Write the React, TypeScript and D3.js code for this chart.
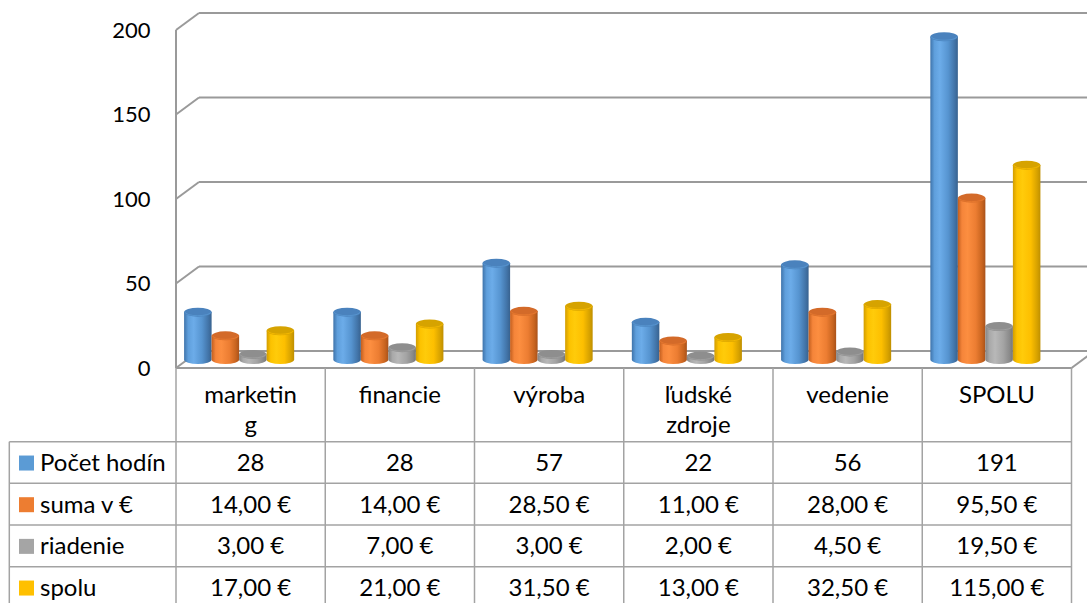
import React from "react";
import * as d3 from "d3";

const categories = ["marketing", "financie", "výroba", "ľudské zdroje", "vedenie", "SPOLU"];
const categoryLines = [["marketin", "g"], ["financie"], ["výroba"], ["ľudské", "zdroje"], ["vedenie"], ["SPOLU"]];
const seriesNames = ["Počet hodín", "suma v €", "riadenie", "spolu"];
const pocetHodin = [28, 28, 57, 22, 56, 191];
const sumaEur = [14, 14, 28.5, 11, 28, 95.5];
const riadenie = [3, 7, 3, 2, 4.5, 19.5];
const spolu = [17, 21, 31.5, 13, 32.5, 115];
const yTicks = [0, 50, 100, 150, 200];

const seriesValues = [pocetHodin, sumaEur, riadenie, spolu];
const seriesIsCurrency = [false, true, true, true];
const seriesColors = ["#5B9BD5", "#ED7D31", "#A5A5A5", "#FFC000"];
const seriesGrad = [
  ["#3f74ab", "#5f9fdc", "#6cace9", "#5694d0", "#4274a8", "#38628f"],
  ["#c25e1e", "#f5853a", "#fc8e40", "#ec7d32", "#c8641f", "#a9521a"],
  ["#858585", "#a9a9a9", "#b8b8b8", "#a4a4a4", "#8a8a8a", "#767676"],
  ["#d29d00", "#fcc200", "#ffcb0a", "#fdbf00", "#d7a200", "#bf8f00"],
];
const seriesTop = ["#4a82bd", "#d36a29", "#8e8e8e", "#d6a300"];

const W = 1087;
const H = 603;
const FONT = "Lato, 'Open Sans', sans-serif";

const loc = d3.formatLocale({ decimal: ",", thousands: " ", grouping: [3], currency: ["", " €"] });
const fmtCur = loc.format("$.2f");

export default function App() {
  const frontLeft = 176;
  const frontRight = 1071.5;
  const depthX = 23;
  const depthY = -17;

  const yFront = d3.scaleLinear().domain([0, 200]).range([368, 30]);
  const yBack = (v: number) => yFront(v) + depthY;
  const yMid = (v: number) => yFront(v) + depthY / 2;

  const xCat = d3.scaleBand<string>().domain(categories).range([frontLeft, frontRight]).padding(0);
  const xSer = d3
    .scaleBand<string>()
    .domain(seriesNames)
    .range([0, xCat.bandwidth()])
    .paddingInner(0)
    .paddingOuter(0.712);

  const gridColor = "#9a9a9a";
  const tableColor = "#a3a3a3";

  const headerTop = 368;
  const headerBottom = 441.7;
  const rowH = 41.67;
  const legendLeft = 9.3;

  const ry = 4.5;

  return (
    <svg
      width={W}
      height={H}
      style={{ position: "absolute", left: 0, top: 0, background: "#fff" }}
      fontFamily={FONT}
    >
      <defs>
        {seriesGrad.map((stops, i) => (
          <linearGradient key={i} id={`g${i}`} x1="0" x2="1" y1="0" y2="0">
            {stops.map((c, j) => (
              <stop key={j} offset={[0, 0.15, 0.35, 0.65, 0.88, 1][j]} stopColor={c} />
            ))}
          </linearGradient>
        ))}
      </defs>

      {/* back wall gridlines */}
      {yTicks.map((t) => (
        <g key={t}>
          <line x1={frontLeft + depthX} x2={W + 20} y1={yBack(t)} y2={yBack(t)} stroke={gridColor} strokeWidth={2} />
          <line x1={frontLeft} x2={frontLeft + depthX} y1={yFront(t)} y2={yBack(t)} stroke={gridColor} strokeWidth={2} />
        </g>
      ))}
      {/* left wall front edge */}
      <line x1={frontLeft} x2={frontLeft} y1={yFront(200)} y2={yFront(0)} stroke={gridColor} strokeWidth={2} />
      {/* floor */}
      <line x1={frontLeft} x2={frontRight} y1={yFront(0)} y2={yFront(0)} stroke={gridColor} strokeWidth={2} />
      <line x1={frontRight} x2={frontRight + depthX} y1={yFront(0)} y2={yBack(0)} stroke={gridColor} strokeWidth={2} />

      {/* y axis labels */}
      {yTicks.map((t) => (
        <text key={t} x={150.5} y={yFront(t) + 7.8} textAnchor="end" fontSize={22} fill="#000">
          {t}
        </text>
      ))}

      {/* cylinders */}
      {categories.map((c, ci) => (
        <g key={c}>
          {seriesNames.map((s, si) => {
            const v = seriesValues[si][ci];
            const x0 = (xCat(c) as number) - depthX / 2 + (xSer(s) as number);
            const w = xSer.bandwidth();
            const xR = x0 + w;
            const yb = yMid(0);
            const yt = yMid(v);
            const rx = w / 2;
            const d = `M${x0},${yt} L${x0},${yb} A${rx},${ry} 0 0 0 ${xR},${yb} L${xR},${yt} Z`;
            return (
              <g key={s}>
                <path d={d} fill={`url(#g${si})`} />
                <ellipse cx={x0 + rx} cy={yt} rx={rx} ry={ry} fill={seriesTop[si]} />
                <path
                  d={`M${x0 + 1},${yt} A${rx - 1},${ry - 1} 0 0 0 ${xR - 1},${yt}`}
                  fill="none"
                  stroke={seriesColors[si]}
                  strokeOpacity={0.7}
                  strokeWidth={1}
                />
              </g>
            );
          })}
        </g>
      ))}

      {/* data table */}
      {categories.map((c) => (
        <line
          key={c}
          x1={xCat(c) as number}
          x2={xCat(c) as number}
          y1={headerTop}
          y2={H + 10}
          stroke={tableColor}
          strokeWidth={1.5}
        />
      ))}
      <line x1={frontRight} x2={frontRight} y1={headerTop} y2={H + 10} stroke={tableColor} strokeWidth={1.5} />
      <line x1={legendLeft} x2={legendLeft} y1={headerBottom} y2={H + 10} stroke={tableColor} strokeWidth={1.5} />
      {seriesNames.map((s, si) => (
        <line
          key={s}
          x1={legendLeft}
          x2={frontRight}
          y1={headerBottom + si * rowH}
          y2={headerBottom + si * rowH}
          stroke={tableColor}
          strokeWidth={1.5}
        />
      ))}
      <line
        x1={legendLeft}
        x2={frontRight}
        y1={headerBottom + 4 * rowH}
        y2={headerBottom + 4 * rowH}
        stroke={tableColor}
        strokeWidth={1.5}
      />

      {/* header labels */}
      {categories.map((c, ci) => (
        <text
          key={c}
          x={(xCat(c) as number) + xCat.bandwidth() / 2}
          y={403}
          textAnchor="middle"
          fontSize={24}
          fill="#000"
        >
          {categoryLines[ci].map((ln, li) => (
            <tspan key={li} x={(xCat(c) as number) + xCat.bandwidth() / 2} dy={li === 0 ? 0 : 30}>
              {ln}
            </tspan>
          ))}
        </text>
      ))}

      {/* rows */}
      {seriesNames.map((s, si) => {
        const cy = headerBottom + si * rowH + rowH / 2;
        return (
          <g key={s}>
            <rect x={19} y={cy - 7} width={15} height={15} fill={seriesColors[si]} />
            <text x={40} y={cy + 8.6} fontSize={24} fill="#000">
              {s}
            </text>
            {categories.map((c, ci) => (
              <text
                key={c}
                x={(xCat(c) as number) + xCat.bandwidth() / 2}
                y={cy + 8.6}
                textAnchor="middle"
                fontSize={24}
                fill="#000"
              >
                {seriesIsCurrency[si] ? fmtCur(seriesValues[si][ci]) : String(seriesValues[si][ci])}
              </text>
            ))}
          </g>
        );
      })}
    </svg>
  );
}
